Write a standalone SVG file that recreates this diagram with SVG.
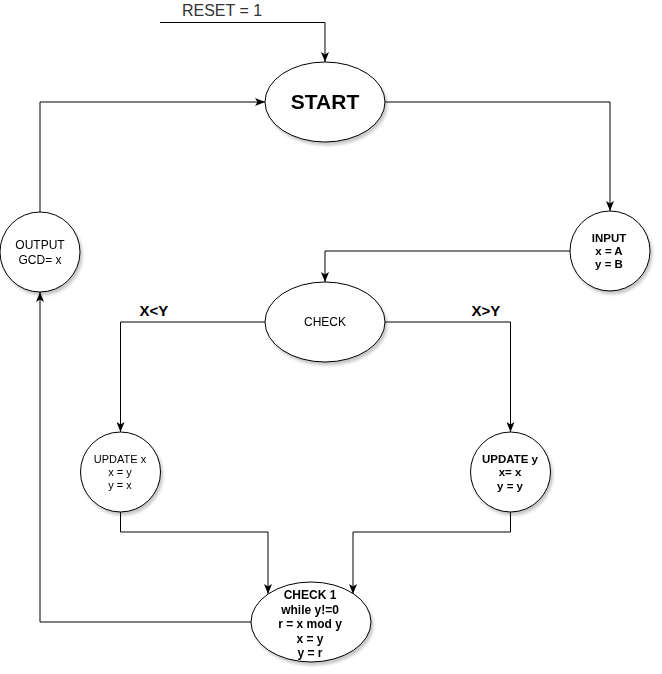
<svg xmlns="http://www.w3.org/2000/svg" width="662" height="674" viewBox="0 0 662 674">
<style>
.shape{fill:#fff;stroke:#000;stroke-width:1}
.edge{fill:none;stroke:#000;stroke-width:1}
text{font-family:"Liberation Sans",Arial,sans-serif;fill:#000;text-anchor:middle}
.r11{font-size:11px}
.r12{font-size:12px}
.b115{font-size:11.5px;font-weight:bold}
.b12{font-size:12px;font-weight:bold}
.lbl{font-size:15px;font-weight:bold}
</style>
<defs>
<filter id="sh" x="-20%" y="-20%" width="150%" height="150%">
<feDropShadow dx="2" dy="3" stdDeviation="1.5" flood-color="#000" flood-opacity="0.22"/>
</filter>
<marker id="arr" markerUnits="userSpaceOnUse" viewBox="0 0 10 8" markerWidth="10" markerHeight="8" refX="10" refY="4" orient="auto">
<path d="M0,0 L10,4 L0,8 L2.5,4 Z" fill="#000"/>
</marker>
</defs>
<rect width="662" height="674" fill="#fff"/>
<g id="connectors">
<path class="edge" d="M160 22.5 H325 V62" marker-end="url(#arr)"/>
<path class="edge" d="M385 102 H610 V211" marker-end="url(#arr)"/>
<path class="edge" d="M570 251 H325 V282" marker-end="url(#arr)"/>
<path class="edge" d="M265 322 H120.5 V432" marker-end="url(#arr)"/>
<path class="edge" d="M385 322 H510.5 V432" marker-end="url(#arr)"/>
<path class="edge" d="M120.5 512 V532 H268 V594" marker-end="url(#arr)"/>
<path class="edge" d="M510.5 512 V532 H353 V594" marker-end="url(#arr)"/>
<path class="edge" d="M251 622 H40 V292" marker-end="url(#arr)"/>
<path class="edge" d="M40 212 V102 H265" marker-end="url(#arr)"/>
<text x="222" y="16" style="font-size:16px;fill:#333">RESET = 1</text>
<text class="lbl" x="154" y="316">X&lt;Y</text>
<text class="lbl" x="486" y="316">X&gt;Y</text>
</g>
<g id="start" filter="url(#sh)">
<ellipse class="shape" cx="325" cy="102" rx="60" ry="40"/>
<text x="325" y="109" style="font-size:21px;font-weight:bold">START</text>
</g>
<g id="input" filter="url(#sh)">
<circle class="shape" cx="610" cy="251" r="40"/>
<text class="b115" x="609" y="242">INPUT</text>
<text class="b115" x="609" y="255">x = A</text>
<text class="b115" x="609" y="268">y = B</text>
</g>
<g id="check" filter="url(#sh)">
<ellipse class="shape" cx="325" cy="322" rx="60" ry="40"/>
<text class="r12" x="325" y="326">CHECK</text>
</g>
<g id="update-x" filter="url(#sh)">
<circle class="shape" cx="120.5" cy="472" r="40"/>
<text class="r11" x="120" y="462.5">UPDATE x</text>
<text class="r11" x="120" y="476">x = y</text>
<text class="r11" x="120" y="489">y = x</text>
</g>
<g id="update-y" filter="url(#sh)">
<circle class="shape" cx="510.5" cy="472" r="40"/>
<text class="b115" x="510" y="462.5">UPDATE y</text>
<text class="b115" x="510" y="476">x= x</text>
<text class="b115" x="510" y="489.5">y = y</text>
</g>
<g id="check1" filter="url(#sh)">
<ellipse class="shape" cx="311" cy="622" rx="60" ry="40"/>
<text class="b12" x="310" y="598.5">CHECK 1</text>
<text class="b12" x="310" y="613.5">while y!=0</text>
<text class="b12" x="310" y="628">r = x mod y</text>
<text class="b12" x="310" y="642.5">x = y</text>
<text class="b12" x="310" y="657">y = r</text>
</g>
<g id="output" filter="url(#sh)">
<circle class="shape" cx="40" cy="252" r="40"/>
<text class="r12" x="40" y="249">OUTPUT</text>
<text class="r12" x="40" y="264">GCD= x</text>
</g>
</svg>
